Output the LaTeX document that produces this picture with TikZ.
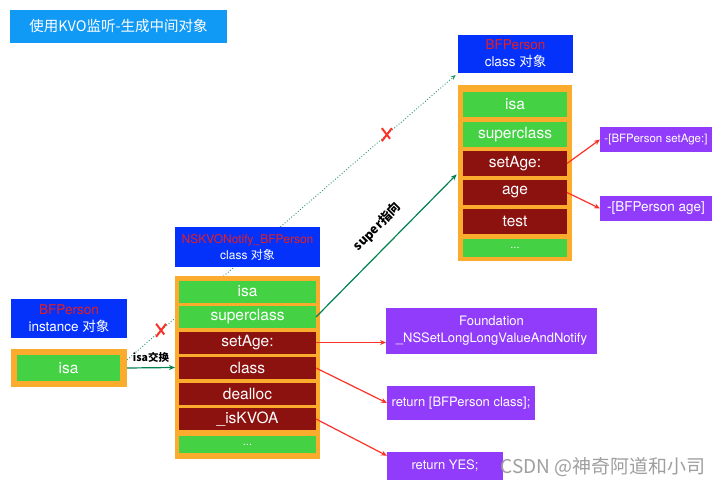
\documentclass[tikz,border=0pt]{standalone}
\usepackage{fontspec}
\setmainfont{TeX Gyre Heros}
\newfontfamily\cjk{Noto Sans CJK SC}
\usetikzlibrary{arrows.meta,shapes.misc,backgrounds}
\definecolor{titleblue}{RGB}{16,153,245}
\definecolor{headblue}{RGB}{5,50,250}
\definecolor{frameorange}{RGB}{252,172,45}
\definecolor{rowgreen}{RGB}{68,210,68}
\definecolor{rowred}{RGB}{140,18,16}
\definecolor{implpurple}{RGB}{145,60,250}
\definecolor{arrowred}{RGB}{250,50,40}
\definecolor{arrowgreen}{RGB}{0,130,80}
\definecolor{namered}{RGB}{232,30,30}

\begin{document}
\begin{tikzpicture}[x=1pt,y=-1pt,
  box/.style={inner sep=0pt,outer sep=0pt,align=center,text=white},
  head/.style={box,fill=headblue,font=\fontsize{13.5}{17}\selectfont},
  frame/.style={box,fill=frameorange},
  greenrow/.style={box,fill=rowgreen,font=\fontsize{15.5}{18}\selectfont},
  redrow/.style={box,fill=rowred,font=\fontsize{15.5}{18}\selectfont},
  impl/.style={box,fill=implpurple,font=\fontsize{13}{17}\selectfont},
  callarrow/.style={arrowred,line width=1.2pt,-{Stealth[length=6pt,width=5pt]}},
  linkarrow/.style={arrowgreen,line width=1.2pt,-{Stealth[length=6pt,width=5pt]}},
  cross/.style={cross out,solid,draw=arrowred,line width=2pt,minimum width=8pt,minimum height=11pt,inner sep=0pt}]
  \useasboundingbox (0,0) rectangle (723,487);

  % title
  \node[box,fill=titleblue,minimum width=217pt,minimum height=33pt,font=\cjk\fontsize{14.5}{17}\selectfont,at={(118.5,26.5)}] (title) {使用KVO监听-生成中间对象};

  % BFPerson class
  %boxes
  \node[head,minimum width=115pt,minimum height=38pt,at={(515.5,54)}] (rHead) {\textcolor{namered}{BFPerson}\\class {\cjk 对象}};
  \node[frame,minimum width=114pt,minimum height=176pt,at={(515,173)}] (rFrame) {};
  \node[greenrow,minimum width=104pt,minimum height=25pt,at={(515,104.5)}] (rIsa) {isa};
  \node[greenrow,minimum width=104pt,minimum height=25pt,at={(515,134.5)}] (rSuper) {superclass};
  \node[redrow,minimum width=104pt,minimum height=25pt,at={(515,163.5)}] (rSet) {setAge:};
  \node[redrow,minimum width=104pt,minimum height=25pt,at={(515,192.5)}] (rAge) {age};
  \node[redrow,minimum width=104pt,minimum height=25pt,at={(515,221.5)}] (rTest) {test};
  \node[greenrow,minimum width=104pt,minimum height=18pt,font=\fontsize{11}{13}\selectfont,at={(515,248)}] (rMore) {...};
  %methods
  \node[impl,minimum width=112pt,minimum height=25pt,font=\fontsize{11.5}{14}\selectfont,at={(656,139.5)}] (impSet) {-[BFPerson setAge:]};
  \node[impl,minimum width=112pt,minimum height=25pt,font=\fontsize{13.5}{16}\selectfont,at={(656,208.5)}] (impAge) {-[BFPerson age]};
  \draw[callarrow] (rSet.east) -- (impSet.west);
  \draw[callarrow] (rAge.east) -- (impAge.west);

  % NSKVONotify_BFPerson class
  %boxes
  \node[head,minimum width=145pt,minimum height=40pt,font=\fontsize{12}{16}\selectfont,at={(247.5,247)}] (mHead) {\textcolor{namered}{NSKVONotify\_BFPerson}\\class {\cjk 对象}};
  \node[frame,minimum width=145pt,minimum height=183pt,at={(247.5,367.5)}] (mFrame) {};
  \node[greenrow,minimum width=137pt,minimum height=22pt,at={(247.5,291.5)}] (mIsa) {isa};
  \node[greenrow,minimum width=137pt,minimum height=22pt,at={(247.5,317)}] (mSuper) {superclass};
  \node[redrow,minimum width=137pt,minimum height=22pt,at={(247.5,342.5)}] (mSet) {setAge:};
  \node[redrow,minimum width=137pt,minimum height=22pt,at={(247.5,368)}] (mClass) {class};
  \node[redrow,minimum width=137pt,minimum height=22pt,at={(247.5,393.5)}] (mDealloc) {dealloc};
  \node[redrow,minimum width=137pt,minimum height=22pt,at={(247.5,419)}] (mKvoa) {\_isKVOA};
  \node[greenrow,minimum width=137pt,minimum height=17pt,font=\fontsize{11}{13}\selectfont,at={(247.5,444.5)}] (mMore) {...};
  %methods
  \node[impl,minimum width=211pt,minimum height=46pt,at={(491.5,331)}] (found) {Foundation\\\_NSSetLongLongValueAndNotify};
  \node[impl,minimum width=148pt,minimum height=34pt,at={(461,403)}] (retClass) {return [BFPerson class];};
  \node[impl,minimum width=116pt,minimum height=28pt,at={(445,466)}] (retYes) {return YES;};
  \draw[callarrow] (mSet.east) -- (mSet.east -| found.west);
  \draw[callarrow] (mClass.east) -- (retClass.west);
  \draw[callarrow] (mKvoa.east) -- (retYes.170);

  % BFPerson instance
  \node[head,minimum width=116pt,minimum height=39pt,at={(69,318.5)}] (iHead) {\textcolor{namered}{BFPerson}\\instance {\cjk 对象}};
  \node[frame,minimum width=116pt,minimum height=38pt,at={(69,368)}] (iFrame) {};
  \node[greenrow,minimum width=103pt,minimum height=26pt,at={(68.5,368)}] (iIsa) {isa};

  % links
  \draw[linkarrow] (iFrame.east) -- node[above=1pt,text=black,font=\cjk\bfseries\fontsize{10.5}{12}\selectfont] (swapLabel) {isa交换} (mFrame.west);
  \draw[linkarrow,shorten >=2pt] (mSuper.east) -- node[sloped,above=9pt,pos=0.53,text=black,font=\cjk\bfseries\fontsize{12.5}{14}\selectfont] (superLabel) {super指向} (rFrame.west);
  \begin{scope}[on background layer]
    \fill[white] (0,0) rectangle (723,487);
    \draw[arrowgreen!85,dotted,line width=0.9pt,-{Stealth[length=5pt,width=4pt]},shorten >=3pt] (iFrame.8) -- node[cross,pos=0.103] (oldIsa) {} node[cross,pos=0.785] (oldClass) {} (rHead.south west);
  \end{scope}

  % watermark
  \node[text=gray!75,font=\cjk\fontsize{19}{22}\selectfont,at={(603,467)}] (mark) {CSDN @神奇阿道和小司};
\end{tikzpicture}
\end{document}
